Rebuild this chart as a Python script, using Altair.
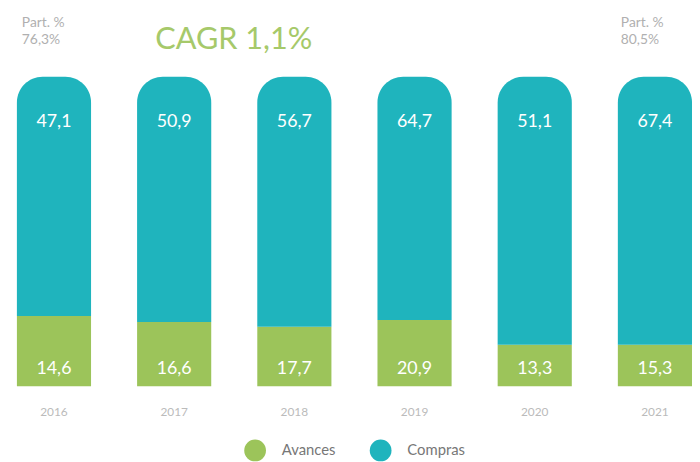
import altair as alt
import pandas as pd

years = ["2016", "2017", "2018", "2019", "2020", "2021"]
avances = [14.6, 16.6, 17.7, 20.9, 13.3, 15.3]
compras = [47.1, 50.9, 56.7, 64.7, 51.1, 67.4]
# share of each bar's height taken by the green segment, as drawn (%)
avances_share = [22.7, 20.8, 19.2, 21.4, 13.4, 13.4]
series = ["Avances", "Compras"]
colors = ["#9cc45a", "#1fb4bd"]

rows = []
for y, a, c, s in zip(years, avances, compras, avances_share):
    rows.append({"year": y, "series": "Avances", "value": a, "y0": 0, "y1": s,
                 "label": f"{a:.1f}".replace(".", ",")})
    rows.append({"year": y, "series": "Compras", "value": c, "y0": s, "y1": 100,
                 "label": f"{c:.1f}".replace(".", ",")})
df = pd.DataFrame(rows)

FONT = "Lato"

x = alt.X("year:N", title=None,
          scale=alt.Scale(range=[9, 692], paddingInner=0.383, paddingOuter=0),
          axis=alt.Axis(domain=False, ticks=False, labelAngle=0, labelColor="#bbbbbb",
                        labelFont=FONT, labelFontSize=12, labelPadding=21))
ysc = alt.Scale(domain=[0, 100], nice=False)
color = alt.Color("series:N", title=None,
                  scale=alt.Scale(domain=series, range=colors),
                  legend=alt.Legend(orient="none", direction="horizontal",
                                    legendX=239, legendY=367,
                                    symbolType="circle", symbolSize=484,
                                    symbolStrokeWidth=0, labelFont=FONT,
                                    labelFontSize=15, labelColor="#777777",
                                    labelOffset=16, columnPadding=34))

base = alt.Chart(df)

bars_a = base.transform_filter(alt.datum.series == "Avances").mark_bar(size=75).encode(
    x=x, y=alt.Y("y0:Q", scale=ysc, axis=None), y2="y1:Q", color=color)
bars_c = base.transform_filter(alt.datum.series == "Compras").mark_bar(
    cornerRadiusTopLeft=26, cornerRadiusTopRight=26).encode(
    x=x, y=alt.Y("y0:Q", scale=ysc, axis=None), y2="y1:Q", color=color)

txt_c = base.transform_filter(alt.datum.series == "Compras").mark_text(
    color="white", font=FONT, fontSize=18, fontWeight="normal", baseline="middle", dy=46).encode(
    x=x, y=alt.Y("y1:Q", scale=ysc), text="label:N")
txt_a = base.transform_filter(alt.datum.series == "Avances").mark_text(
    color="white", font=FONT, fontSize=18, fontWeight="normal", baseline="middle", dy=-17).encode(
    x=x, y=alt.Y("y0:Q", scale=ysc), text="label:N")

part_left = ["Part. %", "76,3%"]
part_right = ["Part. %", "80,5%"]
cagr = "CAGR 1,1%"

ann_df = pd.DataFrame({"t": [0]})
ann = alt.Chart(ann_df)
GRAY = "#b0b0b0"
left = ann.mark_text(text=part_left, align="left", baseline="alphabetic", font=FONT,
                     fontSize=14, lineHeight=17, color=GRAY).encode(
    x=alt.value(14), y=alt.value(-50))
right = ann.mark_text(text=part_right, align="left", baseline="alphabetic", font=FONT,
                      fontSize=14, lineHeight=17, color=GRAY).encode(
    x=alt.value(620), y=alt.value(-50))
cagr_t = ann.mark_text(text=cagr, align="left", baseline="alphabetic", font=FONT,
                       fontSize=31, fontWeight="normal", color="#a6c96a").encode(
    x=alt.value(149), y=alt.value(-28))

chart = alt.layer(bars_a, bars_c, txt_c, txt_a, left, right, cagr_t).properties(
    width=692, height=313,
    autosize=alt.AutoSizeParams(type="none"),
    padding={"left": 0, "top": 67, "right": 0, "bottom": 74},
    background="white",
).configure_view(strokeWidth=0)

chart.save("out.html", embed_options={"renderer": "svg", "actions": False})
